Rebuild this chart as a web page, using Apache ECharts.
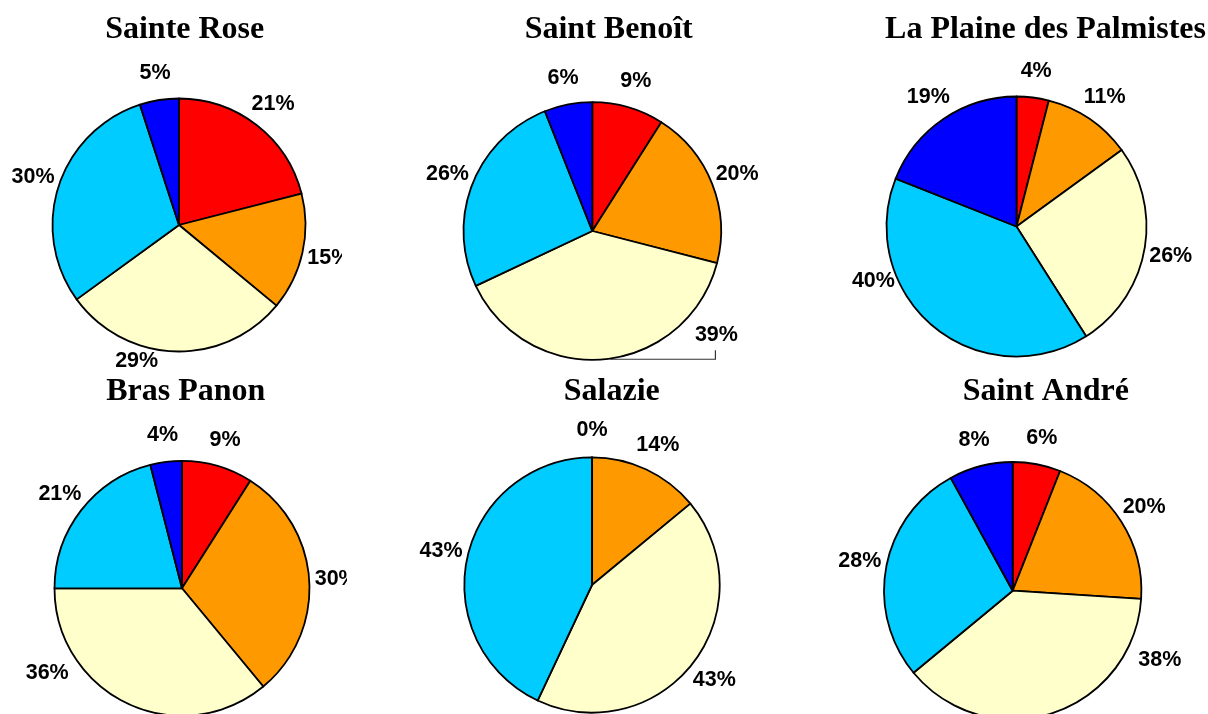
<!DOCTYPE html>
<html>
<head>
<meta charset="utf-8">
<title>Répartition par commune</title>
<script src="https://cdn.jsdelivr.net/npm/echarts@6/dist/echarts.min.js"></script>
<style>
  html, body { margin: 0; padding: 0; background: #fff; }
  #wrap { position: relative; width: 1208px; height: 714px; overflow: hidden; }
  .cell { position: absolute; overflow: hidden; }
</style>
</head>
<body>
<div id="wrap">
  <div id="pie0" class="cell"></div>
  <div id="pie1" class="cell"></div>
  <div id="pie2" class="cell"></div>
  <div id="pie3" class="cell"></div>
  <div id="pie4" class="cell"></div>
  <div id="pie5" class="cell"></div>
</div>
<script>
// data (percent per class, clockwise from 12 o'clock)
const classes = ['Classe 1', 'Classe 2', 'Classe 3', 'Classe 4', 'Classe 5']
const communes = ['Sainte Rose', 'Saint Benoît', 'La Plaine des Palmistes', 'Bras Panon', 'Salazie', 'Saint André']
const sainteRose = [21, 15, 29, 30, 5]
const saintBenoit = [9, 20, 39, 26, 6]
const plainePalmistes = [4, 11, 26, 40, 19]
const brasPanon = [9, 30, 36, 21, 4]
const salazie = [0, 14, 43, 43, 0]
const saintAndre = [6, 20, 38, 28, 8]
const values = [sainteRose, saintBenoit, plainePalmistes, brasPanon, salazie, saintAndre]

const sliceColors = ['#ff0000', '#ff9900', '#ffffcc', '#00ccff', '#0000ff']

// layout of each cell: [left, top, width, height], pie centre/radius and title in cell coords
const cells = [
  { box: [0, 0, 342, 390], center: [179, 225], radius: 126.5, titleX: 184.7, titleTop: 13.5 },
  { box: [380, 0, 420, 390], center: [212.3, 231], radius: 128.8, titleX: 228.7, titleTop: 13.5 },
  { box: [800, 0, 408, 390], center: [216.5, 226.5], radius: 130, titleX: 245.5, titleTop: 13.5 },
  { box: [0, 357, 347, 357], center: [182, 231.3], radius: 127.5, titleX: 185.7, titleTop: 18.9 },
  { box: [380, 357, 420, 357], center: [212, 228], radius: 127.7, titleX: 231.8, titleTop: 18.9 },
  { box: [800, 357, 408, 357], center: [212.7, 233.7], radius: 128.7, titleX: 245.8, titleTop: 18.9 }
]

const LABEL_GAP = 27
// labels that the original moved away from the slice middle
const labelNudge = { '0-2': [-37.5, -17], '2-3': [-43, -66], '3-2': [-69, -55], '5-2': [99, -79] }
// label with a leader line: text offset from slice edge, line start shift, horizontal run, vertical rise
const leaders = { '1-2': { text: [112, -24], start: 6, run: 111, rise: 9 } }

function makeLabelLayout(ci) {
  return function (p) {
    const pts = p.labelLinePoints
    if (!pts) return {}
    const a = pts[0], b = pts[1]
    const len = Math.hypot(b[0] - a[0], b[1] - a[1]) || 1
    const ux = (b[0] - a[0]) / len, uy = (b[1] - a[1]) / len
    const key = ci + '-' + p.dataIndex
    const l = leaders[key]
    if (l) {
      return {
        x: a[0] + l.text[0], y: a[1] + l.text[1], align: 'center', verticalAlign: 'middle',
        labelLinePoints: [[a[0] + l.start, a[1]], [a[0] + l.run, a[1]], [a[0] + l.run, a[1] - l.rise]]
      }
    }
    const n = labelNudge[key] || [0, 0]
    return {
      x: a[0] + ux * LABEL_GAP + n[0], y: a[1] + uy * LABEL_GAP + n[1],
      align: 'center', verticalAlign: 'middle', hideOverlap: true
    }
  }
}

cells.forEach(function (cell, ci) {
  const el = document.getElementById('pie' + ci)
  el.style.left = cell.box[0] + 'px'
  el.style.top = cell.box[1] + 'px'
  el.style.width = cell.box[2] + 'px'
  el.style.height = cell.box[3] + 'px'

  const data = values[ci].map(function (v, i) {
    const item = { name: classes[i], value: v, itemStyle: { color: sliceColors[i] } }
    if (leaders[ci + '-' + i]) {
      item.labelLine = { lineStyle: { opacity: 1, color: '#333', width: 1.2 } }
    }
    return item
  })

  const chart = echarts.init(el)
  chart.setOption({
    animation: false,
    title: {
      text: communes[ci],
      left: cell.titleX,
      top: cell.titleTop,
      textAlign: 'center',
      padding: 0,
      textStyle: { fontFamily: 'Liberation Serif', fontWeight: 'bold', fontSize: 32, color: '#000' }
    },
    series: [{
      type: 'pie',
      center: cell.center,
      radius: cell.radius,
      startAngle: 90,
      clockwise: true,
      avoidLabelOverlap: false,
      silent: true,
      data: data,
      itemStyle: { borderColor: '#000', borderWidth: 1.8 },
      label: {
        show: true,
        position: 'outside',
        formatter: '{c}%',
        fontFamily: 'Liberation Sans',
        fontWeight: 'bold',
        fontSize: 21.5,
        color: '#000'
      },
      labelLine: { show: true, length: 10, length2: 0, lineStyle: { opacity: 0 } },
      labelLayout: makeLabelLayout(ci)
    }]
  })
})
</script>
</body>
</html>
